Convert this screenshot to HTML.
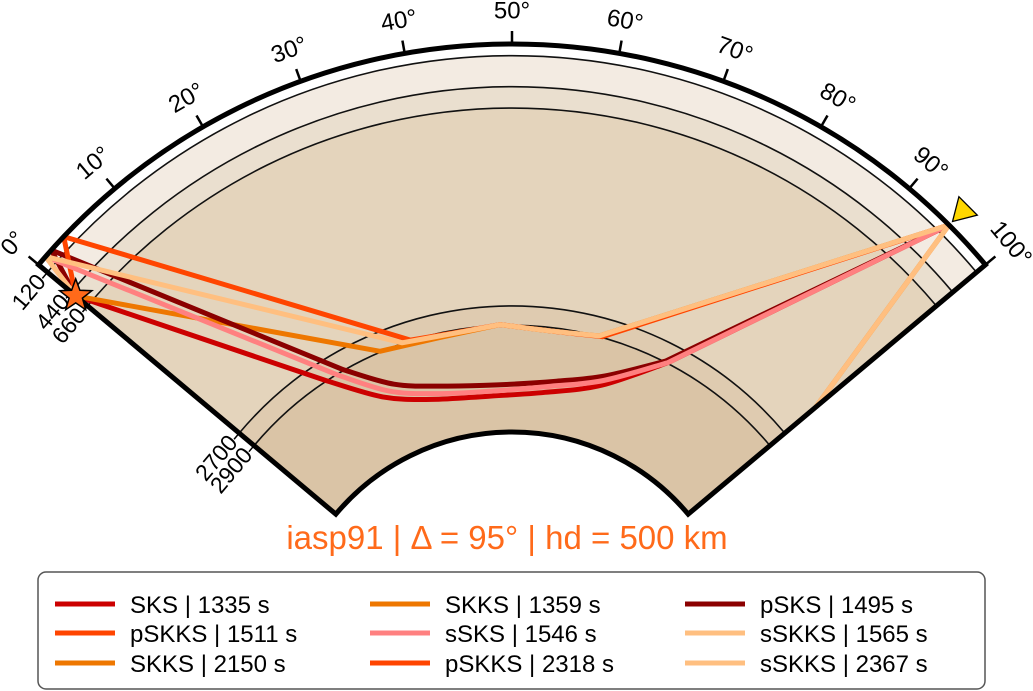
<!DOCTYPE html>
<html><head><meta charset="utf-8"><style>
html,body{margin:0;padding:0;background:#fff;width:1033px;height:691px;overflow:hidden}
svg{display:block;font-family:"Liberation Sans",sans-serif}
</style></head><body>
<svg id="chart" width="1033" height="691" viewBox="0 0 1033 691">
<defs><clipPath id="wedge"><path id="wedgePath"/></clipPath></defs>
<g id="bands"></g>
<g id="rays" clip-path="url(#wedge)"></g>
<g id="frame"></g>
<g id="labels"></g>
<g id="marks"></g>
<text x="507" y="549" text-anchor="middle" font-size="33" fill="#ff6a1a">iasp91 | Δ = 95° | hd = 500 km</text>
<g id="legend">
<rect x="38" y="572" width="947" height="117" rx="8" fill="#fff" stroke="#555" stroke-width="1.5"/>
</g>
</svg>
<script>
// ---- data ----
const angleTicks=[0,10,20,30,40,50,60,70,80,90,100];
const depthLines=[120,440,660,2700,2900];
const depthLabelsLeft=["120","440","660","2700","2900"];
const phaseNames=["SKS","SKKS","pSKS","pSKKS","sSKS","sSKKS","SKKS","pSKKS","sSKKS"];
const phaseTimes=[1335,1359,1495,1511,1546,1565,2150,2318,2367];
const phaseColors=["#cc0000","#ee7700","#8b0000","#ff4500","#ff8080","#ffbf80","#ee7700","#ff4500","#ffbf80"];
const pathSKS=[[0,500],[16.5,2891],[24,3330],[33,3540],[45,3620],[57,3570],[68,3370],[77.5,2891],[95,0]];
const pathSKKS1=[[0,500],[27,2891],[37.5,2945],[48,2891],[56.5,2935],[65,2891],[95,0]];
const pathpSKS=[[0,500],[1.8,0],[20,2891],[27,3260],[36,3440],[47,3510],[59,3440],[68,3270],[77,2891],[95,0]];
const pathpSKKS1=[[0,500],[3.5,0],[32.5,2891],[40,2925],[48,2891],[56.5,2935],[65.5,2891],[95,0]];
const pathsSKS=[[0,500],[1,0],[18.5,2891],[25.5,3300],[34.5,3500],[46,3570],[58,3500],[68,3320],[77.5,2891],[95,0]];
const pathsSKKS1=[[0,500],[1,0],[31,2891],[39.5,2930],[48,2891],[56.5,2935],[65,2891],[95,0]];
const pathSKKS2=[[100.5,2420],[95,0]];
const pathpSKKS2=[[0,500],[-2,0]];
const pathsSKKS2=[[100.5,2420],[95,0]];
const phasePaths=[pathSKS,pathSKKS1,pathpSKS,pathpSKKS1,pathsSKS,pathsSKKS1,pathSKKS2,pathpSKKS2,pathsSKKS2];
const sourceDeg=0, sourceDepth=500, receiverDeg=95;
// ---- geometry ----
const NS="http://www.w3.org/2000/svg";
const cx=512, cy=662, R=618, RE=6371, DMAX=4000, CMB=2891;
const rOf=d=>(RE-d)/RE*R;
const th=deg=>(deg-50)*Math.PI/180;
const X=(deg,r)=>cx+r*Math.sin(th(deg));
const Y=(deg,r)=>cy-r*Math.cos(th(deg));
function el(tag,attrs,parent){const e=document.createElementNS(NS,tag);for(const k in attrs)e.setAttribute(k,attrs[k]);parent.appendChild(e);return e;}
function sector(r1,r2){
  return `M${X(0,r2)},${Y(0,r2)} A${r2},${r2} 0 0 1 ${X(100,r2)},${Y(100,r2)} L${X(100,r1)},${Y(100,r1)} A${r1},${r1} 0 0 0 ${X(0,r1)},${Y(0,r1)} Z`;
}
function arc(r){return `M${X(0,r)},${Y(0,r)} A${r},${r} 0 0 1 ${X(100,r)},${Y(100,r)}`;}
function rayPath(p){
  const P=p.map(q=>[X(q[0],rOf(q[1])),Y(q[0],rOf(q[1])),q[1]]);
  const inCore=i=>i>=0&&i<P.length&&P[i][2]>=CMB;
  let d=`M${P[0][0].toFixed(1)},${P[0][1].toFixed(1)}`;
  for(let i=0;i<P.length-1;i++){
    const p1=P[i], p2=P[i+1];
    if(inCore(i)&&inCore(i+1)){
      const p0=inCore(i-1)&&P[i][2]>CMB?P[i-1]:p1;
      const p3=inCore(i+2)&&P[i+1][2]>CMB?P[i+2]:p2;
      const t=1/6;
      const c1=[p1[0]+(p2[0]-p0[0])*t,p1[1]+(p2[1]-p0[1])*t];
      const c2=[p2[0]-(p3[0]-p1[0])*t,p2[1]-(p3[1]-p1[1])*t];
      d+=` C${c1[0].toFixed(1)},${c1[1].toFixed(1)} ${c2[0].toFixed(1)},${c2[1].toFixed(1)} ${p2[0].toFixed(1)},${p2[1].toFixed(1)}`;
    } else d+=` L${p2[0].toFixed(1)},${p2[1].toFixed(1)}`;
  }
  return d;
}
const rIn=rOf(DMAX);
document.getElementById('wedgePath').setAttribute('d',sector(rIn,R));
const bands=document.getElementById('bands');
const bandDefs=[[0,120,"#ffffff"],[120,440,"#f3ebe2"],[440,660,"#eadfcf"],[660,2700,"#e4d4bc"],[2700,2900,"#dfcbb0"],[2900,DMAX,"#dac4a6"]];
bandDefs.forEach(b=>{const e=el('path',{d:sector(rOf(b[1]),rOf(b[0])),fill:b[2]},bands);

});
depthLines.forEach(d=>{const e=el('path',{d:arc(rOf(d)),fill:'none',stroke:'#111','stroke-width':1.6},bands);

});
const rays=document.getElementById('rays');
phasePaths.forEach((p,i)=>{
  const e=el('path',{d:rayPath(p),fill:'none',stroke:phaseColors[i],'stroke-width':5,'stroke-linejoin':'round'},rays);
  
  
});
const frame=document.getElementById('frame');
const fr=el('path',{d:sector(rIn,R),fill:'none',stroke:'#000','stroke-width':5,'stroke-linejoin':'miter'},frame);


const labels=document.getElementById('labels');
angleTicks.forEach(a=>{
  const t=el('line',{x1:X(a,R),y1:Y(a,R),x2:X(a,R+13),y2:Y(a,R+13),stroke:'#000','stroke-width':2.5},frame);
  
  
  const rot=a-50, lx=X(a,R+32), ly=Y(a,R+32);
  const tx=el('text',{x:lx,y:ly,'text-anchor':'middle','dominant-baseline':'middle','font-size':24,transform:`rotate(${rot} ${lx} ${ly})`},labels);
  tx.textContent=a+'°';
  
  
});
depthLines.forEach((d,i)=>{
  const r=rOf(d), ex=X(0,r), ey=Y(0,r);
  const t=el('line',{x1:ex,y1:ey,x2:ex-0.643*8,y2:ey+0.766*8,stroke:'#000','stroke-width':1.5},frame);
  
  
  const lx=ex-0.643*8, ly=ey+0.766*8;
  const tx=el('text',{x:lx,y:ly,'text-anchor':'end','dominant-baseline':'middle','font-size':23,transform:`rotate(-50 ${lx} ${ly})`},labels);
  tx.textContent=depthLabelsLeft[i];
  
  
});
const marks=document.getElementById('marks');
{const sx=X(sourceDeg,rOf(sourceDepth)), sy=Y(sourceDeg,rOf(sourceDepth));
let pts=[];for(let k=0;k<10;k++){const rr=k%2?7:17;const a=-Math.PI/2+k*Math.PI/5;pts.push((sx+rr*Math.cos(a)).toFixed(1)+','+(sy+rr*Math.sin(a)).toFixed(1));}
const s=el('polygon',{points:pts.join(' '),fill:'#ff6a1a',stroke:'#000','stroke-width':1.5},marks);

}
{const rx=X(receiverDeg,R+18), ry=Y(receiverDeg,R+18);
const tri=el('polygon',{points:`${rx-13},${ry-9} ${rx+13},${ry-9} ${rx},${ry+13}`,fill:'#ffd700',stroke:'#000','stroke-width':1.3,transform:`rotate(${receiverDeg-50} ${rx} ${ry})`},marks);

}
const legend=document.getElementById('legend');
const colX=[55,370,685], rowY=[604,633,663];
phaseNames.forEach((n,i)=>{
  const c=i%3, r=Math.floor(i/3);
  const ln=el('line',{x1:colX[c],y1:rowY[r],x2:colX[c]+60,y2:rowY[r],stroke:phaseColors[i],'stroke-width':5},legend);
  
  
  const tx=el('text',{x:colX[c]+75,y:rowY[r]+9,'font-size':24,fill:'#000'},legend);
  tx.textContent=n+' | '+phaseTimes[i]+' s';
  
  
});
</script>
</body></html>
